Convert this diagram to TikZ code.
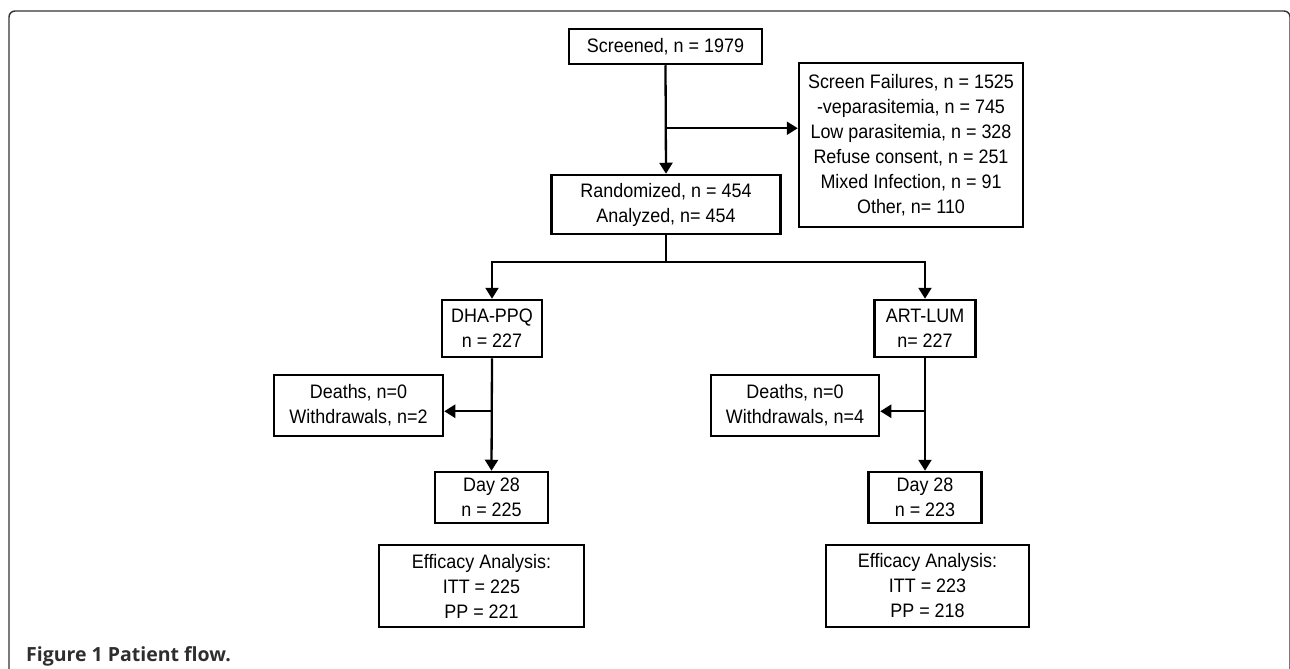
\documentclass[tikz,border=0pt]{standalone}
\usepackage{fontspec}
\setmainfont{Liberation Sans}
\newfontfamily\boxfont{Liberation Sans}[FakeStretch=0.92]
\newfontfamily\capfont{Open Sans}
\usetikzlibrary{arrows.meta}
\definecolor{framegray}{HTML}{333333}
\definecolor{capgray}{HTML}{2E2E2E}
\tikzset{
  box/.style={draw=black, line width=2.5pt, fill=white, align=center, inner sep=0pt,
    font=\boxfont\fontsize{19.5}{25}\selectfont},
  conn/.style={draw=black, line width=2.3pt},
  arr/.style={conn, -{Triangle[length=11pt,width=13pt]}},
  frameline/.style={draw=framegray, line width=1.4pt, rounded corners=6pt},
}
\begin{document}
\begin{tikzpicture}[x=1pt,y=-1pt]
\useasboundingbox (0,0) rectangle (1290,669);
\begin{scope}
\clip (0,0) rectangle (1290,669);
\draw[frameline] (9,680) -- (9,11) -- (1290,11) -- (1290,680);
\end{scope}

\node[box, minimum width=193pt, minimum height=35pt] (screened) at (665.5,46.5) {Screened, n = 1979};
\node[box, minimum width=224pt, minimum height=164pt] (fail) at (911,145) {Screen Failures, n = 1525\\-veparasitemia, n = 745\\Low parasitemia, n = 328\\Refuse consent, n = 251\\Mixed Infection, n = 91\\Other, n= 110};
\node[box, minimum width=229pt, minimum height=59pt] (rand) at (666,204.5) {Randomized, n = 454\\Analyzed, n= 454};
\node[box, minimum width=100pt, minimum height=57pt] (dha) at (492,328.5) {DHA-PPQ\\n = 227};
\node[box, minimum width=101pt, minimum height=57pt] (art) at (925,328.5) {ART-LUM\\n= 227};
\node[box, minimum width=169pt, minimum height=61pt] (deathsL) at (358.5,405.5) {Deaths, n=0\\Withdrawals, n=2};
\node[box, minimum width=168pt, minimum height=61pt] (deathsR) at (795,405.5) {Deaths, n=0\\Withdrawals, n=4};
\node[box, minimum width=113pt, minimum height=51pt] (dayL) at (491.5,497.5) {Day 28\\n = 225};
\node[box, minimum width=113pt, minimum height=51pt] (dayR) at (925,497.5) {Day 28\\n = 223};
\node[box, minimum width=205pt, minimum height=82pt] (effL) at (481.5,586) {Efficacy Analysis:\\ITT = 225\\PP = 221};
\node[box, minimum width=203pt, minimum height=82pt] (effR) at (927.5,586) {Efficacy Analysis:\\ITT = 223\\PP = 218};

\node[anchor=west, inner sep=0pt, text=capgray, font=\capfont\bfseries\fontsize{19.5}{22}\selectfont] (caption) at (26,656) {Figure 1 Patient flow.};

% connectors
\draw[arr] (screened.south) -- (rand.north);
\path (screened.south) ++(0,63) coordinate (j1);
\draw[arr] (j1) -- (j1 -| fail.west);

\path (rand.south) ++(0,27) coordinate (split);
\draw[conn] (rand.south) -- (split);
\draw[arr] (split) -| (dha.north);
\draw[arr] (split) -| (art.north);

\draw[arr] (dha.south) -- (dayL.north);
\path (dha.south) ++(0,53) coordinate (bL);
\draw[arr] (bL) -- (bL -| deathsL.east);

\draw[arr] (art.south) -- (dayR.north);
\path (art.south) ++(0,53) coordinate (bR);
\draw[arr] (bR) -- (bR -| deathsR.east);
\end{tikzpicture}
\end{document}
